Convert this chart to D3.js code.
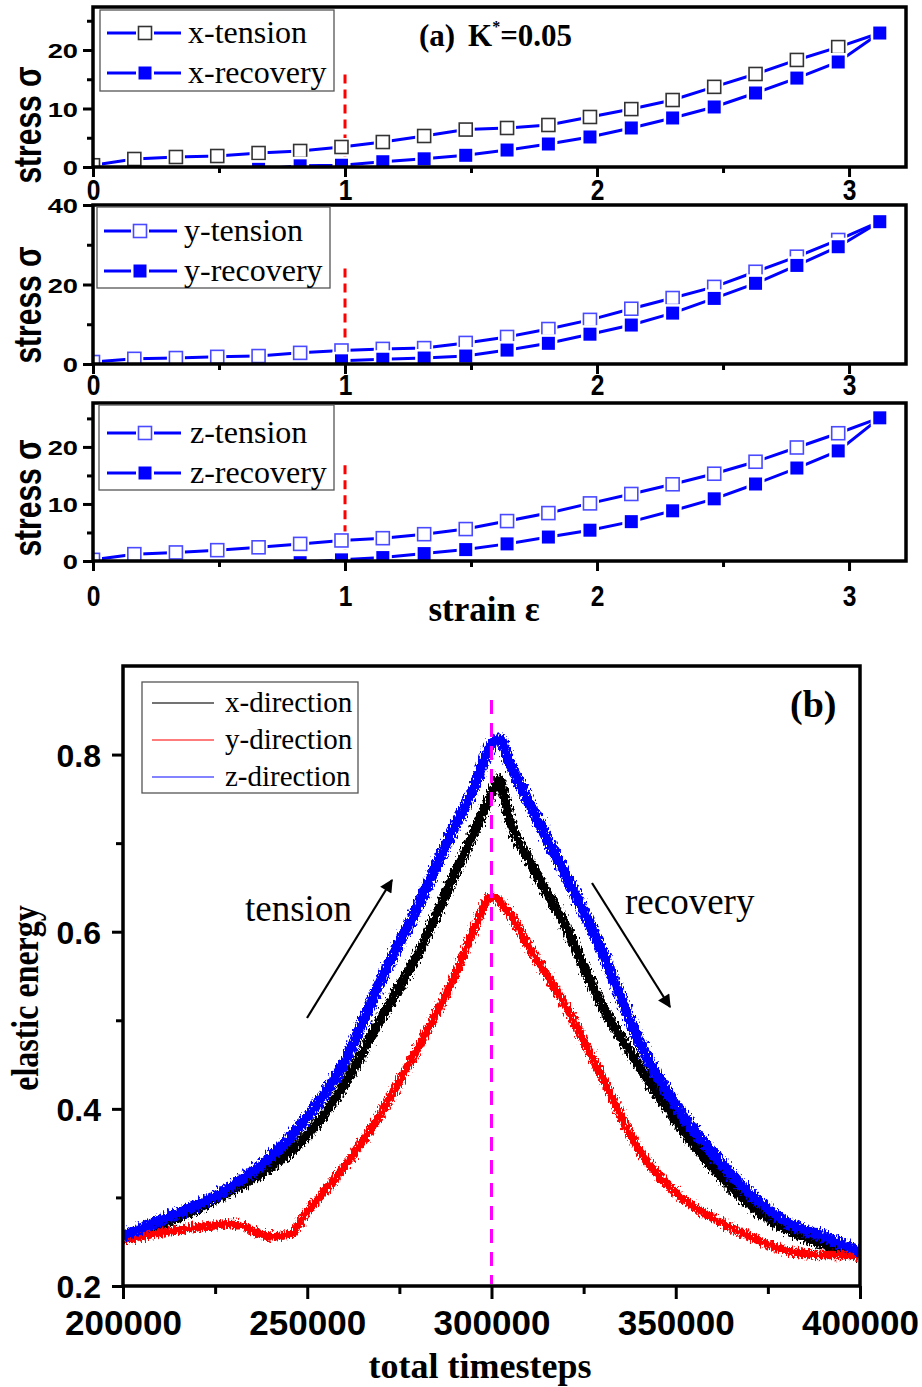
<!DOCTYPE html>
<html><head><meta charset="utf-8">
<script src="https://cdn.jsdelivr.net/npm/d3@7"></script>
<style>body{margin:0;background:#fff}svg{display:block}</style>
</head><body>
<svg id="c" width="922" height="1387"></svg>
<script>
// ---------- DATA : panel (a) ----------
const strain = [0, 0.164, 0.329, 0.493, 0.657, 0.822, 0.986, 1.15, 1.314, 1.479, 1.643, 1.807, 1.972, 2.136, 2.3, 2.465, 2.629, 2.793, 2.957, 3.122];
const xTension  = [0.3, 1.37, 1.71, 1.88, 2.39, 2.74, 3.42, 4.27, 5.3, 6.4, 6.67, 7.18, 8.55, 9.9, 11.45, 13.7, 15.9, 18.3, 20.5, 22.9];
const xRecovery = [null, null, null, null, -0.4, 0.2, 0.3, 0.9, 1.4, 2.0, 2.9, 3.93, 5.13, 6.67, 8.38, 10.26, 12.65, 15.2, 17.95, 22.9];
const yTension  = [0.5, 1.3, 1.5, 1.8, 2.0, 2.8, 3.4, 3.8, 4.0, 5.3, 6.8, 8.8, 11.1, 13.9, 16.6, 19.4, 23.2, 27.0, 31.2, 35.8];
const yRecovery = [null, null, null, null, null, null, 0.8, 1.2, 1.5, 2.0, 3.5, 5.2, 7.5, 9.8, 12.8, 16.5, 20.3, 24.8, 29.5, 35.8];
const zTension  = [0.2, 1.2, 1.5, 1.9, 2.4, 3.0, 3.6, 4.0, 4.7, 5.6, 7.0, 8.4, 10.1, 11.75, 13.45, 15.3, 17.4, 19.9, 22.4, 25.1];
const zRecovery = [null, null, null, null, null, -0.3, 0.2, 0.6, 1.3, 2.0, 3.0, 4.2, 5.4, 6.9, 8.8, 10.9, 13.5, 16.3, 19.3, 25.1];
const strainTicks = [0, 1, 2, 3];
const strainMinor = [0.5, 1.5, 2.5];
const stressTicksXZ = [0, 10, 20];
const stressMinorXZ = [5, 15, 25];
const stressTicksY = [0, 20, 40];
const stressMinorY = [10, 30];

// ---------- DATA : panel (b) ----------
const timesteps = [200000, 210000, 220000, 230000, 240000, 245000, 250000, 260000, 270000, 280000, 290000, 295000, 300000, 302000, 305000, 310000, 320000, 330000, 340000, 350000, 360000, 370000, 380000, 390000, 400000];
const energyX = [0.252, 0.269, 0.287, 0.309, 0.334, 0.350, 0.370, 0.427, 0.502, 0.575, 0.665, 0.71, 0.755, 0.772, 0.725, 0.682, 0.607, 0.517, 0.449, 0.387, 0.334, 0.292, 0.264, 0.247, 0.234];
const energyY = [0.252, 0.260, 0.266, 0.270, 0.256, 0.258, 0.284, 0.334, 0.395, 0.469, 0.550, 0.600, 0.640, 0.635, 0.620, 0.584, 0.517, 0.436, 0.354, 0.305, 0.277, 0.256, 0.240, 0.235, 0.235];
const energyZ = [0.256, 0.274, 0.291, 0.314, 0.346, 0.366, 0.391, 0.452, 0.545, 0.629, 0.719, 0.76, 0.812, 0.818, 0.79, 0.747, 0.665, 0.578, 0.477, 0.404, 0.350, 0.305, 0.272, 0.256, 0.239];
const timeTicks = [200000, 250000, 300000, 350000, 400000];
const timeMinor = [225000, 275000, 325000, 375000];
const energyTicks = [0.2, 0.4, 0.6, 0.8];
const energyMinor = [0.3, 0.5, 0.7];

// ---------- DRAWING ----------
const svg = d3.select('#c');
const SANS = 'Liberation Sans, Arial, sans-serif';
const SERIF = 'Liberation Serif, Times New Roman, serif';
const BLUE = '#0000ff';

const defs = svg.append('defs');
const filt = defs.append('filter').attr('id', 'noise')
  .attr('filterUnits', 'userSpaceOnUse').attr('x', 0).attr('y', 600).attr('width', 922).attr('height', 787);
filt.append('feTurbulence').attr('type', 'fractalNoise').attr('baseFrequency', '0.6 0.25')
  .attr('numOctaves', 2).attr('seed', 7).attr('result', 't');
filt.append('feDisplacementMap').attr('in', 'SourceGraphic').attr('in2', 't')
  .attr('scale', 11).attr('xChannelSelector', 'R').attr('yChannelSelector', 'G');

const mk = defs.append('marker').attr('id', 'arrow').attr('viewBox', '0 0 10 10')
  .attr('refX', 9).attr('refY', 5).attr('markerWidth', 7).attr('markerHeight', 6)
  .attr('markerUnits', 'strokeWidth').attr('orient', 'auto');
mk.append('path').attr('d', 'M0,0L10,5L0,10Z').attr('fill', '#000');

const xs = d3.scaleLinear().domain([0, 3.226]).range([93, 906]);

function stressPanel(p, idx) {
  const y = d3.scaleLinear().domain([0, p.ymax]).range([p.bottom, p.top]);
  const g = svg.append('g');
  const cid = 'clip' + idx;
  defs.append('clipPath').attr('id', cid).append('rect')
    .attr('x', 93).attr('y', p.top).attr('width', 813).attr('height', p.bottom - p.top);
  const pg = g.append('g').attr('clip-path', `url(#${cid})`);

  pg.append('line').attr('x1', xs(1)).attr('x2', xs(1))
    .attr('y1', y(p.dashTop)).attr('y2', y(0))
    .attr('stroke', '#ff0000').attr('stroke-width', 3).attr('stroke-dasharray', '9,6');

  const line = d3.line().defined(d => d[1] != null).x(d => xs(d[0])).y(d => y(d[1]));
  const tens = strain.map((s, i) => [s, p.tension[i]]);
  const rec = strain.map((s, i) => [s, p.recovery[i]]);

  function drawSeries(data, filled) {
    pg.append('path').datum(data).attr('d', line)
      .attr('fill', 'none').attr('stroke', BLUE).attr('stroke-width', 3);
    const pts = data.filter(d => d[1] != null);
    pg.selectAll(null).data(pts).join('rect')
      .attr('x', d => xs(d[0]) - 9).attr('y', d => y(d[1]) - 9)
      .attr('width', 18).attr('height', 18).attr('fill', '#fff');
    pg.selectAll(null).data(pts).join('rect')
      .attr('x', d => xs(d[0]) - 6.5).attr('y', d => y(d[1]) - 6.5)
      .attr('width', 13).attr('height', 13)
      .attr('fill', filled ? BLUE : '#fff')
      .attr('stroke', filled ? BLUE : p.hollowStroke).attr('stroke-width', filled ? 0 : 1.6);
  }
  drawSeries(tens, false);
  drawSeries(rec, true);

  g.append('rect').attr('x', 93).attr('y', p.top).attr('width', 813).attr('height', p.bottom - p.top)
    .attr('fill', 'none').attr('stroke', '#000').attr('stroke-width', 3.5);

  const ya = g.append('g').attr('transform', 'translate(93,0)')
    .call(d3.axisLeft(y).tickValues(p.yTicks).tickSize(10).tickFormat(d3.format('d')));
  g.append('g').attr('transform', 'translate(93,0)')
    .call(d3.axisLeft(y).tickValues(p.yMinor).tickSize(6).tickFormat(''));
  const xa = g.append('g').attr('transform', `translate(0,${p.bottom})`)
    .call(d3.axisBottom(xs).tickValues(strainTicks).tickSize(10).tickFormat(d3.format('d')));
  g.append('g').attr('transform', `translate(0,${p.bottom})`)
    .call(d3.axisBottom(xs).tickValues(strainMinor).tickSize(6).tickFormat(''));
  g.selectAll('.domain').remove();
  g.selectAll('.tick line').attr('stroke', '#000').attr('stroke-width', 3);
  ya.selectAll('text').attr('font-family', SANS).attr('font-weight', 'bold').attr('font-size', 21)
    .attr('fill', '#000').attr('transform', 'scale(1.3,1)').attr('x', -15 / 1.3).attr('dy', '0.36em');
  xa.selectAll('text').attr('font-family', SANS).attr('font-weight', 'bold').attr('font-size', 30)
    .attr('fill', '#000').attr('transform', 'scale(0.82,1)').attr('y', p.xLabelOff);

  const L = p.legend;
  g.append('rect').attr('x', L.x0).attr('y', L.y0).attr('width', L.x1 - L.x0).attr('height', L.y1 - L.y0)
    .attr('fill', '#fff').attr('stroke', '#555').attr('stroke-width', 1.3);
  L.rows.forEach((ry, i) => {
    const filled = i === 1;
    g.append('line').attr('x1', L.lx0).attr('x2', L.lx1).attr('y1', ry).attr('y2', ry)
      .attr('stroke', BLUE).attr('stroke-width', 3);
    g.append('rect').attr('x', L.mx - 9).attr('y', ry - 9).attr('width', 18).attr('height', 18).attr('fill', '#fff');
    g.append('rect').attr('x', L.mx - 6.5).attr('y', ry - 6.5).attr('width', 13).attr('height', 13)
      .attr('fill', filled ? BLUE : '#fff').attr('stroke', filled ? 'none' : p.hollowStroke).attr('stroke-width', 1.6);
    g.append('text').attr('x', L.tx).attr('y', ry + 10).text(p.names[i])
      .attr('font-family', SERIF).attr('font-size', 32).attr('fill', '#000');
  });

  g.append('text').attr('transform', `translate(41,${p.labelY}) rotate(-90) scale(1,1.3)`)
    .attr('text-anchor', 'middle').attr('font-family', SANS).attr('font-weight', 'bold')
    .attr('font-size', 30).attr('fill', '#000').text('stress σ');
}

const panels = [
  { top: 7, bottom: 167, ymax: 27.35, dashTop: 15.8, tension: xTension, recovery: xRecovery,
    yTicks: stressTicksXZ, yMinor: stressMinorXZ, hollowStroke: '#333', xLabelOff: 12, labelY: 125,
    names: ['x-tension', 'x-recovery'],
    legend: { x0: 100, x1: 334, y0: 10, y1: 91, rows: [33, 73], lx0: 107, lx1: 181, mx: 145, tx: 188 } },
  { top: 205, bottom: 364, ymax: 40, dashTop: 24, tension: yTension, recovery: yRecovery,
    yTicks: stressTicksY, yMinor: stressMinorY, hollowStroke: '#4a4aff', xLabelOff: 10, labelY: 305,
    names: ['y-tension', 'y-recovery'],
    legend: { x0: 97, x1: 330, y0: 207, y1: 288, rows: [231, 271], lx0: 104, lx1: 177, mx: 140, tx: 184 } },
  { top: 403, bottom: 561, ymax: 27.7, dashTop: 16.8, tension: zTension, recovery: zRecovery,
    yTicks: stressTicksXZ, yMinor: stressMinorXZ, hollowStroke: '#4a4aff', xLabelOff: 24, labelY: 498,
    names: ['z-tension', 'z-recovery'],
    legend: { x0: 99, x1: 334, y0: 405, y1: 490, rows: [433, 473], lx0: 107, lx1: 181, mx: 145, tx: 190 } }
];
panels.forEach(stressPanel);

const ta = svg.append('text').attr('x', 419).attr('y', 46).attr('font-family', SERIF)
  .attr('font-weight', 'bold').attr('font-size', 31).attr('fill', '#000');
ta.append('tspan').text('(a)');
ta.append('tspan').attr('x', 468).text('K');
ta.append('tspan').attr('font-size', 16).attr('dy', -14).text('*');
ta.append('tspan').attr('dy', 14).text('=0.05');

svg.append('text').attr('x', 484).attr('y', 621).attr('text-anchor', 'middle')
  .attr('font-family', SERIF).attr('font-weight', 'bold').attr('font-size', 35).attr('fill', '#000')
  .text('strain ε');

// ---------- panel (b) ----------
const xb = d3.scaleLinear().domain([200000, 400000]).range([123, 860]);
const yb = d3.scaleLinear().domain([0.2, 0.9]).range([1286, 666]);
const gb = svg.append('g');
defs.append('clipPath').attr('id', 'clipb').append('rect')
  .attr('x', 123).attr('y', 666).attr('width', 737).attr('height', 620);
const pb = gb.append('g').attr('clip-path', 'url(#clipb)');
const nb = pb.append('g').attr('filter', 'url(#noise)');
const lineb = d3.line().x(d => xb(d[0])).y(d => yb(d[1])).curve(d3.curveMonotoneX);
[[energyX, '#000', 10], [energyY, '#ff0000', 8.5], [energyZ, BLUE, 11]].forEach(([vals, col, w]) => {
  nb.append('path').datum(timesteps.map((t, i) => [t, vals[i]])).attr('d', lineb)
    .attr('fill', 'none').attr('stroke', col).attr('stroke-width', w).attr('stroke-linejoin', 'round');
});
pb.append('line').attr('x1', xb(300000)).attr('x2', xb(300000)).attr('y1', 700).attr('y2', 1284)
  .attr('stroke', '#ff00ff').attr('stroke-width', 3).attr('stroke-dasharray', '14,9');

gb.append('rect').attr('x', 123).attr('y', 666).attr('width', 737).attr('height', 620)
  .attr('fill', 'none').attr('stroke', '#000').attr('stroke-width', 3.5);
const yab = gb.append('g').attr('transform', 'translate(123,0)')
  .call(d3.axisLeft(yb).tickValues(energyTicks).tickSize(11).tickFormat(d3.format('.1f')));
gb.append('g').attr('transform', 'translate(123,0)')
  .call(d3.axisLeft(yb).tickValues(energyMinor).tickSize(7).tickFormat(''));
const xab = gb.append('g').attr('transform', 'translate(0,1286)')
  .call(d3.axisBottom(xb).tickValues(timeTicks).tickSize(13).tickFormat(d3.format('d')));
gb.append('g').attr('transform', 'translate(0,1286)')
  .call(d3.axisBottom(xb).tickValues(timeMinor).tickSize(8).tickFormat(''));
gb.selectAll('.domain').remove();
gb.selectAll('.tick line').attr('stroke', '#000').attr('stroke-width', 3);
yab.selectAll('text').attr('font-family', SANS).attr('font-weight', 'bold').attr('font-size', 32)
  .attr('fill', '#000').attr('x', -22).attr('dy', '0.36em');
xab.selectAll('text').attr('font-family', SANS).attr('font-weight', 'bold').attr('font-size', 35)
  .attr('fill', '#000').attr('y', 24);

gb.append('rect').attr('x', 142).attr('y', 682).attr('width', 216).attr('height', 111)
  .attr('fill', '#fff').attr('stroke', '#555').attr('stroke-width', 1.3);
[['x-direction', '#444', 703], ['y-direction', '#ff5050', 740], ['z-direction', '#5a5aff', 777]].forEach(([n, c, ry]) => {
  gb.append('line').attr('x1', 152).attr('x2', 214).attr('y1', ry).attr('y2', ry)
    .attr('stroke', c).attr('stroke-width', 1.3);
  gb.append('text').attr('x', 225).attr('y', ry + 9).text(n)
    .attr('font-family', SERIF).attr('font-size', 29).attr('fill', '#000');
});

gb.append('text').attr('x', 790).attr('y', 717).text('(b)')
  .attr('font-family', SERIF).attr('font-weight', 'bold').attr('font-size', 38).attr('fill', '#000');
gb.append('text').attr('x', 245).attr('y', 921).text('tension')
  .attr('font-family', SERIF).attr('font-size', 37).attr('fill', '#000');
gb.append('text').attr('x', 625).attr('y', 914).text('recovery')
  .attr('font-family', SERIF).attr('font-size', 37).attr('fill', '#000');
gb.append('line').attr('x1', 307).attr('y1', 1018).attr('x2', 392).attr('y2', 880)
  .attr('stroke', '#000').attr('stroke-width', 2.2).attr('marker-end', 'url(#arrow)');
gb.append('line').attr('x1', 592).attr('y1', 883).attr('x2', 670).attr('y2', 1007)
  .attr('stroke', '#000').attr('stroke-width', 2.2).attr('marker-end', 'url(#arrow)');

gb.append('text').attr('transform', 'translate(38,998) rotate(-90) scale(1,1.2)').attr('text-anchor', 'middle')
  .attr('font-family', SERIF).attr('font-weight', 'bold').attr('font-size', 32).attr('fill', '#000')
  .text('elastic energy');
gb.append('text').attr('x', 480).attr('y', 1378).attr('text-anchor', 'middle')
  .attr('font-family', SERIF).attr('font-weight', 'bold').attr('font-size', 36).attr('fill', '#000')
  .text('total timesteps');
</script>
</body></html>
